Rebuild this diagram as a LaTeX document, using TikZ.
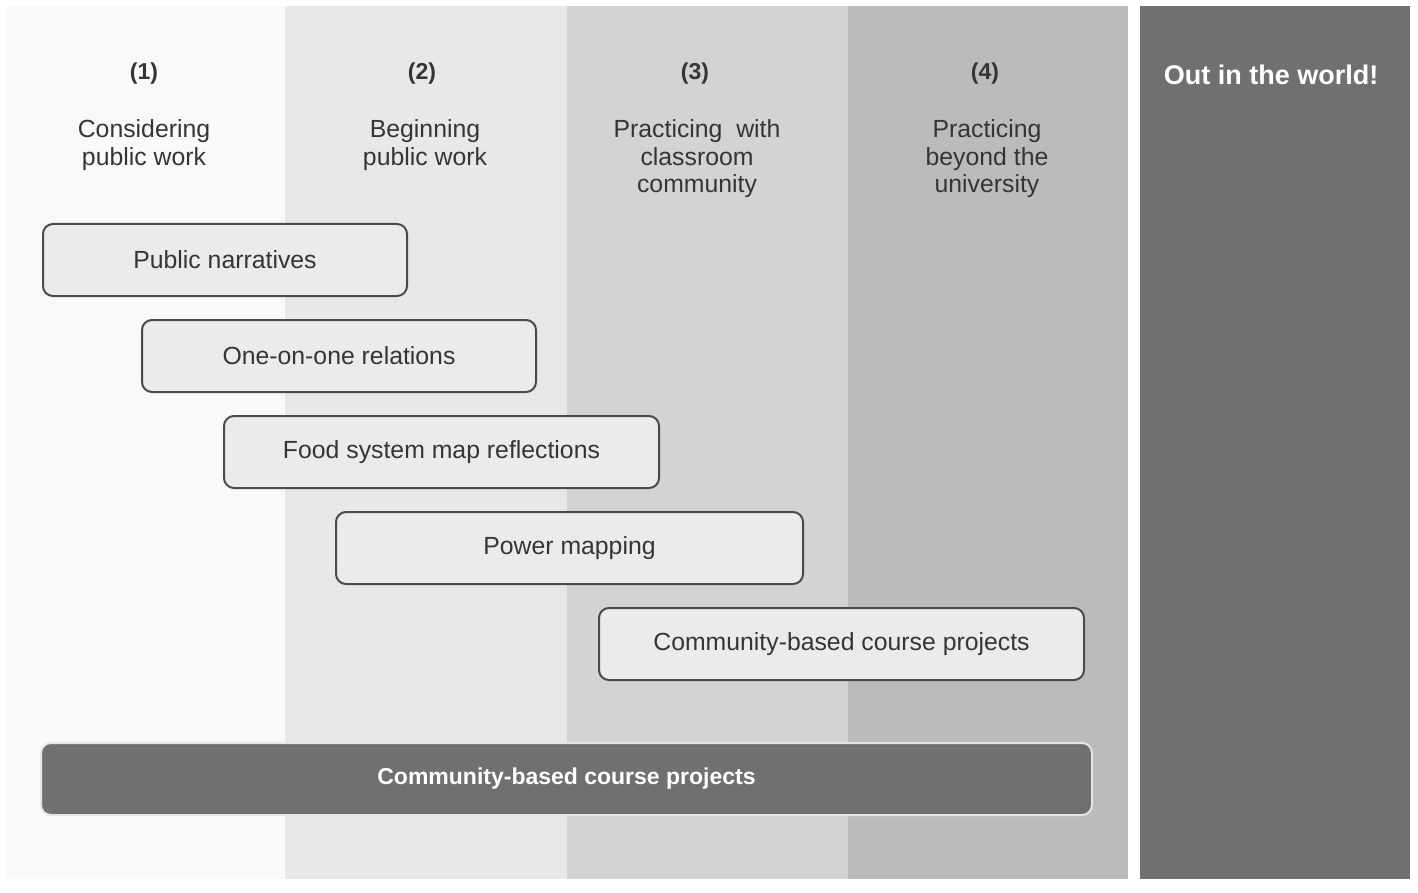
\documentclass[tikz,border=0pt]{standalone}
\usepackage{fontspec}
\setmainfont{Liberation Sans}
\begin{document}
\begin{tikzpicture}[x=1pt,y=-1pt,
  hdr/.style={align=center,text=txt,font=\fontsize{24.8}{27.5}\selectfont},
  num/.style={text=txt,font=\fontsize{23}{27.5}\selectfont\bfseries},
  act/.style={draw=edge,line width=2pt,rounded corners=10pt,fill=boxf,text=txt,font=\fontsize{24.8}{27.5}\selectfont},
  bar/.style={draw=barline,line width=2pt,rounded corners=10pt,fill=dark,text=white,font=\fontsize{23}{27.5}\selectfont\bfseries}]
\definecolor{c1}{HTML}{F8F9FB}
\definecolor{c2}{HTML}{E8E8E8}
\definecolor{c3}{HTML}{D3D3D5}
\definecolor{c4}{HTML}{BBBBBD}
\definecolor{dark}{HTML}{707070}
\definecolor{txt}{HTML}{353535}
\definecolor{edge}{HTML}{4A4A4A}
\definecolor{boxf}{HTML}{EBEBEB}
\definecolor{barline}{HTML}{E6E6E6}
\useasboundingbox[fill=white] (0,0) rectangle (1418,893);
\fill[c1] (6,6) rectangle (285,879);
\fill[c2] (285,6) rectangle (567,879);
\fill[c3] (567,6) rectangle (848,879);
\fill[c4] (848,6) rectangle (1128,879);
\fill[dark] (1140,6) rectangle (1410,879);
\node[num] (n1) at (144,74) {(1)};
\node[num] (n2) at (422,74) {(2)};
\node[num] (n3) at (695,74) {(3)};
\node[num] (n4) at (985,74) {(4)};
\node[hdr,anchor=north] (h1) at (144,116) {Considering\\public work};
\node[hdr,anchor=north] (h2) at (425,116) {Beginning\\public work};
\node[hdr,anchor=north] (h3) at (697,116) {Practicing\ \ with\\classroom\\community};
\node[hdr,anchor=north] (h4) at (987,116) {Practicing\\beyond the\\university};
\node[text=white,font=\fontsize{27}{32}\selectfont\bfseries] (ow) at (1271,75) {Out in the world!};
\node[act,minimum width=364pt,minimum height=72pt] (b1) at (225,260) {Public narratives};
\node[act,minimum width=394pt,minimum height=72pt] (b2) at (339,356) {One-on-one relations};
\node[act,minimum width=435pt,minimum height=72pt] (b3) at (441.5,452) {Food system map reflections};
\node[act,minimum width=467pt,minimum height=72pt] (b4) at (569.5,548) {Power mapping};
\node[act,minimum width=485pt,minimum height=72pt] (b5) at (841.5,644) {Community-based course projects};
\node[bar,minimum width=1051pt,minimum height=72pt] (b6) at (566.5,779) {Community-based course projects};
\end{tikzpicture}
\end{document}
